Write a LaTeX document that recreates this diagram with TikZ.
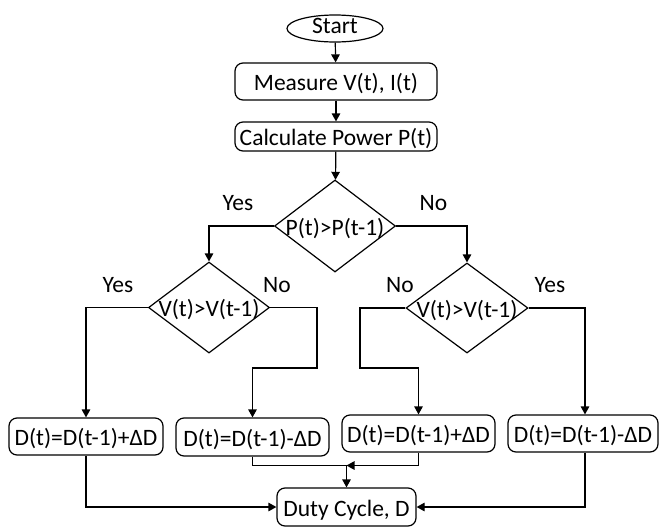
\documentclass[tikz,border=0pt]{standalone}
\usepackage{fontspec}
\setmainfont{Carlito}
\usetikzlibrary{shapes.geometric,arrows.meta,calc}
\tikzset{
  every node/.style={font=\fontsize{23.5}{28}\selectfont, inner sep=0pt},
  fixtext/.style={text height=18pt, text depth=0pt},
  stepbox/.style={draw, rounded corners=8pt, line width=1.2pt, fixtext},
  decision/.style={draw, diamond, line width=1.2pt, fixtext},
  term/.style={draw, ellipse, line width=1.2pt, text height=10pt, text depth=0pt},
  flow/.style={line width=1.2pt, -{Triangle[length=8pt,width=8.5pt]}},
  plain/.style={line width=1.2pt},
  lbl/.style={anchor=base}
}
\begin{document}
\begin{tikzpicture}[x=1pt,y=-1pt]
\useasboundingbox (0,0) rectangle (659,528);
\node[term, minimum width=96pt, minimum height=27pt] (start) at (335,28.5) {Start};
\node[stepbox, minimum width=202pt, minimum height=37pt] (meas) at (336,81.5) {Measure V(t), I(t)};
\node[stepbox, minimum width=202pt, minimum height=29pt] (calc) at (336,136.5) {Calculate Power P(t)};
\node[decision, minimum width=121pt, minimum height=92pt] (d1) at (335,226) {\makebox[0pt]{P(t)>P(t-1)}};
\node[decision, minimum width=121pt, minimum height=91pt] (d2) at (209,307.5) {\makebox[0pt]{V(t)>V(t-1)}};
\node[decision, minimum width=122pt, minimum height=90pt] (d3) at (467,308) {\makebox[0pt]{V(t)>V(t-1)}};
\node[stepbox, minimum width=154pt, minimum height=37pt] (b1) at (86,436.5) {D(t)=D(t-1)+ΔD};
\node[stepbox, minimum width=153pt, minimum height=38pt] (b2) at (252.5,437) {D(t)=D(t-1)-ΔD};
\node[stepbox, minimum width=153pt, minimum height=37pt] (b3) at (418.5,433.5) {D(t)=D(t-1)+ΔD};
\node[stepbox, minimum width=150pt, minimum height=37pt] (b4) at (583,433.5) {D(t)=D(t-1)-ΔD};
\node[stepbox, minimum width=139pt, minimum height=38pt] (duty) at (346.5,507) {Duty Cycle, D};
% labels
\node[lbl] (y1) at (238,210) {Yes};
\node[lbl] (n1) at (433.5,210) {No};
\node[lbl] (y2) at (118,292) {Yes};
\node[lbl] (n2) at (277,292) {No};
\node[lbl] (n3) at (400,292) {No};
\node[lbl] (y3) at (550,292) {Yes};
% junction points
\coordinate (j2) at (317,368);
\coordinate (j3) at (360,368);
\coordinate (m) at (346.5,465.5);
% connectors
\draw[flow] (start) -- (meas);
\draw[flow] (meas) -- (calc);
\draw[flow] (calc) -- (d1);
\draw[flow] (d1.west) -| (d2.north);
\draw[flow] (d1.east) -| (d3.north);
\draw[flow] (d2.west) -| (b1.north);
\draw[flow] (d2.east) -| (j2) -| (b2.north);
\draw[flow] (d3.west) -| (j3) -| (b3.north);
\draw[flow] (d3.east) -| ([xshift=2pt]b4.north);
\draw[flow] (b1.south) |- (duty.west);
\draw[flow] ([xshift=2pt]b4.south) |- (duty.east);
\draw[plain] (b2.south) |- (m);
\draw[flow] (b3.south) |- (m);
\draw[flow] (m) -- (duty.north);
\end{tikzpicture}
\end{document}
